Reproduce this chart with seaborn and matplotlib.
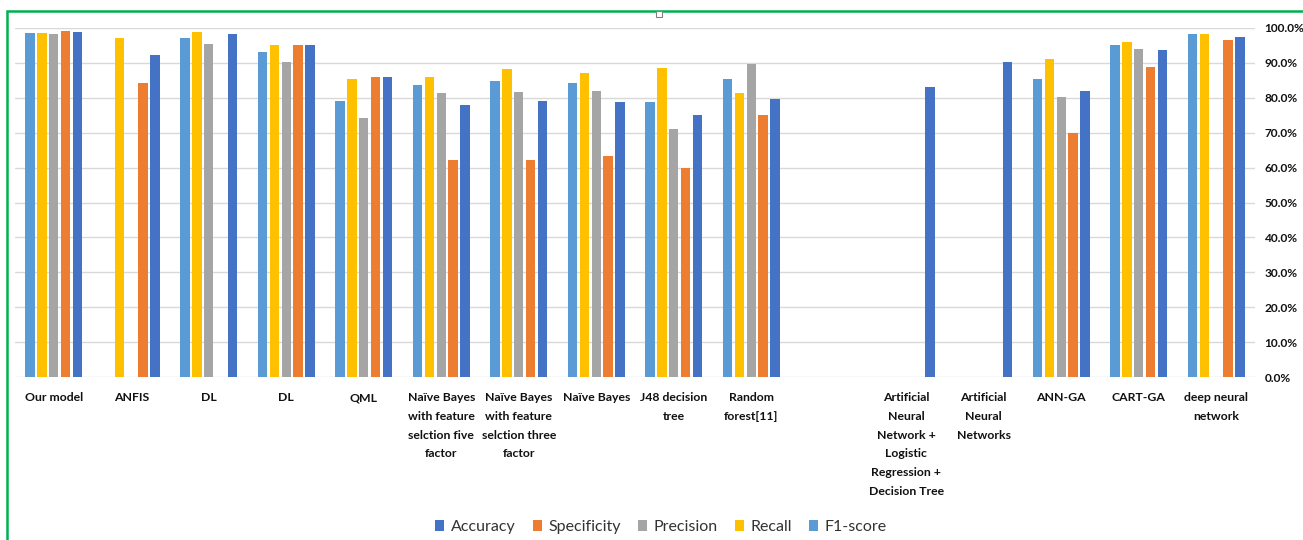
import numpy as np
import pandas as pd
import matplotlib
matplotlib.use("Agg")
import matplotlib.pyplot as plt
from matplotlib.patches import Patch, Rectangle
from matplotlib.ticker import FuncFormatter
import seaborn as sns

nan = np.nan

# Methods compared (one slot is left empty as a spacer between the two groups)
methods = [
    "Our model", "ANFIS", "DL", "DL", "QML",
    "Naïve Bayes\nwith feature\nselction five\nfactor",
    "Naïve Bayes\nwith feature\nselction three\nfactor",
    "Naïve Bayes", "J48 decision\ntree", "Random\nforest[11]", "",
    "Artificial\nNeural\nNetwork +\nLogistic\nRegression +\nDecision Tree",
    "Artificial\nNeural\nNetworks", "ANN-GA", "CART-GA", "deep neural\nnetwork",
]

# Scores in percent (NaN = not reported)
accuracy    = [98.9, 92.2, 98.3, 95.1, 86.1, 77.8, 79.1, 78.9, 75.0, 79.6, nan, 83.2, 90.2, 82.0, 93.6, 97.5]
specificity = [99.2, 84.1, nan, 95.1, 86.1, 62.1, 62.1, 63.4, 59.8, 75.2, nan, nan, nan, 69.8, 88.9, 96.6]
precision   = [98.3, nan, 95.4, 90.2, 74.3, 81.3, 81.7, 82.0, 71.0, 89.7, nan, nan, nan, 80.1, 94.1, nan]
recall      = [98.7, 97.2, 98.8, 95.1, 85.3, 86.1, 88.2, 87.0, 88.6, 81.3, nan, nan, nan, 91.1, 96.1, 98.2]
f1_score    = [98.5, nan, 97.0, 93.0, 79.2, 83.7, 84.7, 84.3, 78.9, 85.3, nan, nan, nan, 85.3, 95.0, 98.3]

legend_order = ["Accuracy", "Specificity", "Precision", "Recall", "F1-score"]
bar_order = ["F1-score", "Recall", "Precision", "Specificity", "Accuracy"]
colors = {
    "Accuracy": "#4472C4",
    "Specificity": "#ED7D31",
    "Precision": "#A5A5A5",
    "Recall": "#FFC000",
    "F1-score": "#5B9BD5",
}

slots = [f"s{i}" for i in range(len(methods))]
wide = pd.DataFrame({
    "slot": slots,
    "Accuracy": accuracy,
    "Specificity": specificity,
    "Precision": precision,
    "Recall": recall,
    "F1-score": f1_score,
})
long = wide.melt(id_vars="slot", var_name="metric", value_name="score").dropna()

sns.set_theme(style="white")
plt.rcParams["font.family"] = ["Lato", "DejaVu Sans"]

W, H = 1303, 540
fig = plt.figure(figsize=(W / 100, H / 100), dpi=100)
ax = fig.add_axes([15 / W, (H - 377) / H, 1240 / W, 349 / H])

sns.barplot(
    data=long, x="slot", y="score", hue="metric",
    order=slots, hue_order=bar_order, palette=colors,
    width=0.76, gap=0.2, saturation=1, errorbar=None,
    linewidth=0, legend=False, ax=ax,
)

ax.set_xlim(-0.5, len(methods) - 0.5)
ax.set_ylim(0, 100)
ax.set_yticks(np.arange(0, 101, 10))
ax.yaxis.tick_right()
ax.yaxis.set_major_formatter(FuncFormatter(lambda v, _: f"{v:.1f}%"))
ax.grid(axis="y", color="#D9D9D9", linewidth=1)
ax.set_axisbelow(True)
for side in ["top", "left", "right", "bottom"]:
    ax.spines[side].set_visible(False)
ax.set_xlabel("")
ax.set_ylabel("")

ax.set_xticks(range(len(methods)))
ax.set_xticklabels(methods, fontsize=8.8, fontweight="bold", color="#111111",
                   linespacing=1.85, va="top", ha="center")
ax.tick_params(axis="x", length=0, pad=11)
ax.tick_params(axis="y", length=0, pad=7, labelsize=8.6, labelcolor="#111111")
for lbl in ax.get_yticklabels():
    lbl.set_fontweight("bold")

handles = [Patch(facecolor=colors[m], edgecolor="none", label=m) for m in legend_order]
fig.legend(handles=handles, loc="center", bbox_to_anchor=(661 / W, 1 - 527 / H),
           ncol=5, frameon=False, fontsize=11.5, handlelength=0.55, handleheight=0.7,
           handletextpad=0.4, columnspacing=1.1, labelcolor="#333333")

# Green frame around the chart area
fig.add_artist(Rectangle((7 / W, -0.2), 2, 1 - 11 / H + 0.2,
                         transform=fig.transFigure, fill=False,
                         edgecolor="#00B050", linewidth=1.8))
fig.add_artist(Rectangle((656 / W, 1 - 17 / H), 6 / W, 6 / H,
                         transform=fig.transFigure, facecolor="white",
                         edgecolor="#808080", linewidth=0.8))

fig.savefig("out.png", dpi=100)
